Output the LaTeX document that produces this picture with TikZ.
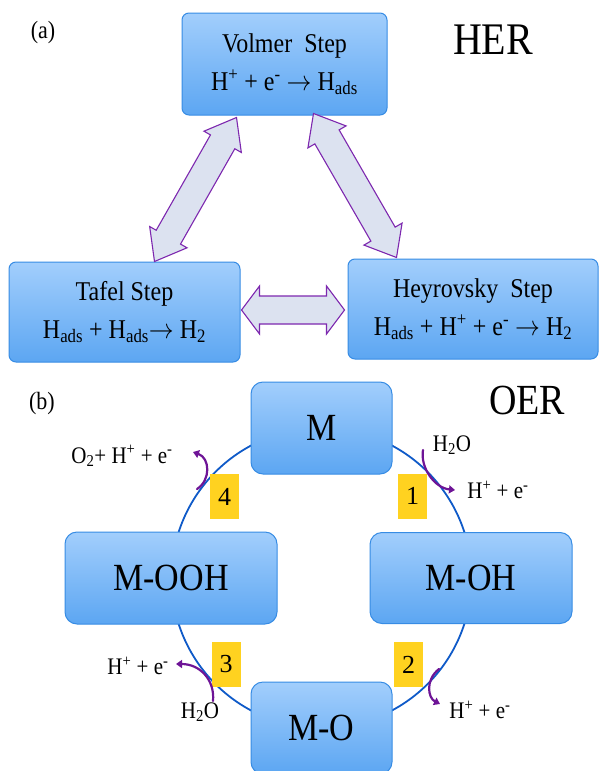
\documentclass[tikz,border=0pt]{standalone}
\usepackage{graphicx}
\usepackage{fontspec}
\setmainfont{Liberation Serif}
\usetikzlibrary{calc,arrows.meta,backgrounds}
\definecolor{boxtop}{RGB}{162,206,252}
\definecolor{boxbot}{RGB}{92,166,242}
\definecolor{boxline}{RGB}{55,140,228}
\definecolor{arrfill}{RGB}{220,226,240}
\definecolor{arrline}{RGB}{125,40,175}
\definecolor{ringc}{RGB}{15,90,200}
\definecolor{gold}{RGB}{255,210,32}
\definecolor{purp}{RGB}{110,20,150}
\newcommand\vs[1]{\scalebox{1}[1.13]{#1}}
\newcommand\dblarr[5]{%
  \coordinate (da) at ($(#1)!#3!(#2)$);
  \coordinate (db) at ($(#2)!#3!(#1)$);
  \draw[bigarrow] (#1) -- ($(da)!#4!90:(#2)$) -- ($(da)!#5!90:(#2)$)
    -- ($(db)!#5!-90:(#1)$) -- ($(db)!#4!-90:(#1)$) -- (#2)
    -- ($(db)!#4!90:(#1)$) -- ($(db)!#5!90:(#1)$)
    -- ($(da)!#5!-90:(#2)$) -- ($(da)!#4!-90:(#2)$) -- cycle;}
\begin{document}
\begin{tikzpicture}[x=1pt,y=-1pt,
  box/.style={draw=boxline, line width=1pt, top color=boxtop, bottom color=boxbot,
    align=center, inner sep=0pt},
  herbox/.style={box, rounded corners=7pt, font=\fontsize{24}{38}\selectfont},
  oerbox/.style={box, rounded corners=12pt, font=\fontsize{34}{40}\selectfont},
  bigarrow/.style={draw=arrline, fill=arrfill, line width=1.1pt, line join=miter},
  numbox/.style={fill=gold, minimum width=29pt, minimum height=45pt, inner sep=0pt,
    font=\fontsize{26}{26}\selectfont},
  lbl/.style={inner sep=0pt, font=\fontsize{21}{21}\selectfont},
  title/.style={inner sep=0pt, font=\fontsize{40}{40}\selectfont},
  tag/.style={inner sep=0pt, font=\fontsize{22}{22}\selectfont},
  bent/.style={draw=purp, line width=2.2pt, line cap=round, -{Triangle[length=6pt,width=8pt]}},
  ringline/.style={draw=ringc, line width=1.8pt}]
\useasboundingbox (0,0) rectangle (600,771);

% HER
\node[tag] (ta) at (43,33) {\vs{(a)}};
\node[title] (her) at (493,40) {\vs{HER}};
\node[herbox, minimum width=205pt, minimum height=102pt] (volmer) at (284.5,64)
  {\vs{Volmer\ \ Step}\\\vs{H\textsuperscript{+} + e\textsuperscript{-} $\rightarrow$ H\textsubscript{ads}}};
\node[herbox, minimum width=231pt, minimum height=100pt] (tafel) at (124.5,312)
  {\vs{Tafel Step}\\\vs{H\textsubscript{ads} + H\textsubscript{ads}$\rightarrow$ H\textsubscript{2}}};
\node[herbox, minimum width=250pt, minimum height=100pt] (heyr) at (473,309)
  {\vs{Heyrovsky\ \ Step}\\\vs{H\textsubscript{ads} + H\textsuperscript{+} + e\textsuperscript{-} $\rightarrow$ H\textsubscript{2}}};

\coordinate (l1) at ($(volmer.south west)+(55,2)$);
\coordinate (l2) at ($(tafel.north)+(30,0)$);
\coordinate (r1) at ($(volmer.south east)+(-74,-2)$);
\coordinate (r2) at ($(heyr.north west)+(49,-1)$);
\coordinate (h1) at ($(tafel.east)+(1,-2)$);
\coordinate (h2) at ($(heyr.west)+(-3,1)$);
\dblarr{l1}{l2}{28pt}{21.5pt}{14pt}
\dblarr{r1}{r2}{27pt}{22pt}{14pt}
\dblarr{h1}{h2}{18pt}{24pt}{14pt}

% OER
\node[tag] (tb) at (42,404) {\vs{(b)}};
\node[title, font=\fontsize{38}{38}\selectfont] (oer) at (527,400) {\vs{OER}};
\node[oerbox, minimum width=141pt, minimum height=92pt] (m) at (321.5,428) {\vs{M}};
\node[oerbox, minimum width=212pt, minimum height=92pt] (mooh) at (171,578) {\vs{M-OOH}};
\node[oerbox, minimum width=202pt, minimum height=91pt] (moh) at (471,578) {\vs{M-OH}};
\node[oerbox, minimum width=141pt, minimum height=92pt] (mo) at (321.5,728) {\vs{M-O}};
\begin{pgfonlayer}{background}
\draw[ringline] ($(m)!0.5!(mo)$) circle (150);
\end{pgfonlayer}

\node[numbox] (n4) at (224.5,496.5) {4};
\node[numbox] (n1) at (412.5,496) {1};
\node[numbox] (n3) at (226,664.5) {3};
\node[numbox] (n2) at (408.5,664.5) {2};

\node[lbl] (o2) at (122,456) {\vs{O\textsubscript{2}+ H\textsuperscript{+} + e\textsuperscript{-}}};
\node[lbl] (w1) at (452,445) {\vs{H\textsubscript{2}O}};
\node[lbl] (p1) at (498,490) {\vs{H\textsuperscript{+} + e\textsuperscript{-}}};
\node[lbl] (p3) at (138,666) {\vs{H\textsuperscript{+} + e\textsuperscript{-}}};
\node[lbl] (w3) at (200,712) {\vs{H\textsubscript{2}O}};
\node[lbl] (p2) at (480,710) {\vs{H\textsuperscript{+} + e\textsuperscript{-}}};

\coordinate (a4s) at (197,489); \coordinate (a4e) at (193,452);
\coordinate (a1s) at (423,450); \coordinate (a1e) at (455,490);
\coordinate (a3s) at (213,701); \coordinate (a3e) at (176,664);
\coordinate (a2s) at (439,669); \coordinate (a2e) at (440,704);
\draw[bent] (a4s) .. controls +(14,-9) and +(17,6) .. (a4e);
\draw[bent] (a1s) .. controls +(-3,18) and +(-20,-2) .. (a1e);
\draw[bent] (a3s) .. controls +(2,-21) and +(24,0) .. (a3e);
\draw[bent] (a2s) .. controls +(-14,11) and +(-12,-6) .. (a2e);
\end{tikzpicture}
\end{document}
